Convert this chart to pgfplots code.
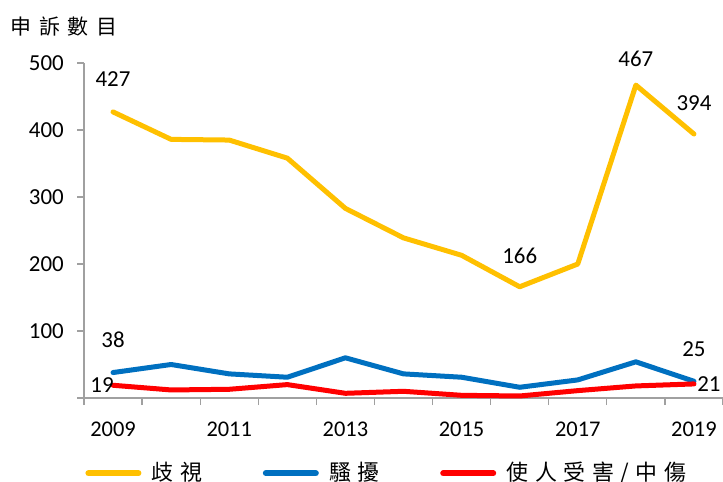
\documentclass[border=0pt]{standalone}
\usepackage{pgfplots}
\pgfplotsset{compat=1.18}
\usepackage{fontspec}
\setmainfont{Carlito}
\newfontfamily\cjkls[LetterSpace=38]{Noto Sans CJK TC}
\newfontfamily\cjklg[LetterSpace=30]{Noto Sans CJK TC}
\definecolor{cy}{HTML}{FFC000}
\definecolor{cb}{HTML}{0070C0}
\definecolor{cr}{HTML}{FF0000}
\definecolor{axc}{HTML}{A0A0A0}
\begin{document}
\begin{tikzpicture}
\path[use as bounding box] (0,0) rectangle (723bp,482bp);
\begin{axis}[
  at={(84bp,84bp)}, anchor=south west,
  scale only axis, width=639bp, height=335bp,
  xmin=2008.5, xmax=2019.5, ymin=0, ymax=500,
  clip=false,
  axis x line*=bottom, axis y line*=left,
  axis line style={axc, line width=1.3bp},
  every tick/.style={axc, line width=1.3bp},
  tick align=outside,
  major tick length=7bp, minor tick length=7bp,
  xtick={2009,2011,2013,2015,2017,2019},
  xticklabels={2009,2011,2013,2015,2017,2019},
  major x tick style={draw=none},
  minor xtick={2008.5,2009.5,2010.5,2011.5,2012.5,2013.5,2014.5,2015.5,2016.5,2017.5,2018.5,2019.5},
  ytick={0,100,200,300,400,500},
  yticklabels={,100,200,300,400,500},
  xticklabel style={font=\fontsize{22.5}{22.5}\selectfont, inner sep=0pt, anchor=north},
  yticklabel style={font=\fontsize{23}{23}\selectfont, inner sep=0pt, anchor=east},
  xticklabel shift=17bp,
  yticklabel shift=13bp,
  legend columns=3,
  legend style={at={(axis description cs:-0.002,-0.209)}, anchor=west, draw=none, fill=none, inner sep=0pt,
    nodes={inner sep=0pt},
    font=\cjklg\fontsize{22}{22}\selectfont,
    /tikz/every odd column/.append style={column sep=8bp},
    /tikz/every even column/.append style={column sep=58bp}},
  legend image code/.code={\path (0bp,0bp) (56bp,16bp); \draw[#1, line width=6bp, line cap=round] (3bp,-1bp) -- (53bp,-1bp);},
  every axis plot/.append style={line width=5bp, line join=round, line cap=round},
]
\addplot[cy] coordinates {(2009,427) (2010,386) (2011,385) (2012,358) (2013,283) (2014,239) (2015,213) (2016,166) (2017,200) (2018,467) (2019,394)};
\addlegendentry{歧視}
\addplot[cb] coordinates {(2009,38) (2010,50) (2011,36) (2012,31) (2013,60) (2014,36) (2015,31) (2016,16) (2017,27) (2018,54) (2019,25)};
\addlegendentry{騷擾}
\addplot[cr] coordinates {(2009,19) (2010,12) (2011,13) (2012,20) (2013,7) (2014,10) (2015,4) (2016,3) (2017,11) (2018,18) (2019,21)};
\addlegendentry{使人受害/中傷}
\begin{scope}[every node/.style={font=\fontsize{23}{23}\selectfont, inner sep=0pt, anchor=center}]
\node[yshift=33bp] at (axis cs:2009,427) {427};
\node[yshift=33bp] at (axis cs:2009,38) {38};
\node[xshift=-11bp] at (axis cs:2009,19) {19};
\node[yshift=31bp] at (axis cs:2016,166) {166};
\node[yshift=26bp] at (axis cs:2018,467) {467};
\node[yshift=31bp] at (axis cs:2019,394) {394};
\node[yshift=32bp] at (axis cs:2019,25) {25};
\node[xshift=15bp] at (axis cs:2019,21) {21};
\end{scope}
\end{axis}
\node[anchor=west, inner sep=0pt, font=\cjkls\fontsize{21}{21}\selectfont] at (10bp,455bp) {申訴數目};
\end{tikzpicture}
\end{document}
